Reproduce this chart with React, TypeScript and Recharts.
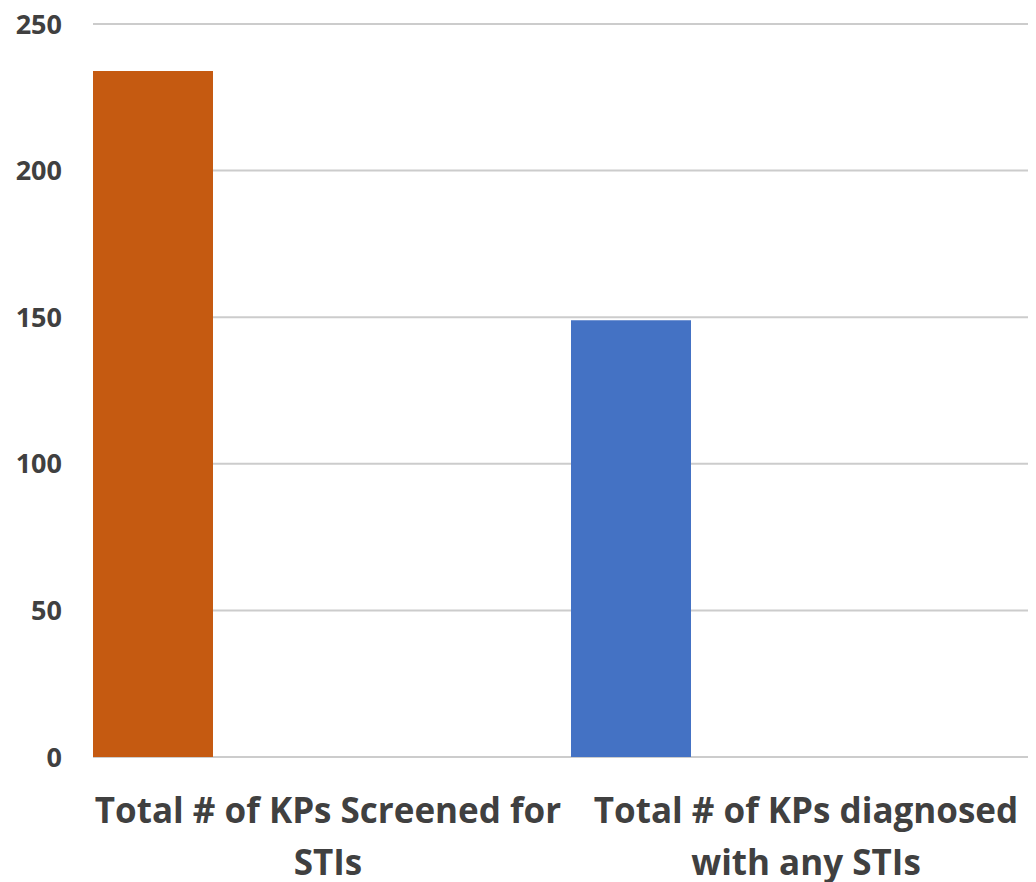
import React from 'react';
import { BarChart, Bar, Cell, XAxis, YAxis, CartesianGrid } from 'recharts';

// categories (\n marks where the axis label wraps)
const categories = ['Total # of KPs Screened for\nSTIs', 'Total # of KPs diagnosed\nwith any STIs'];
// main series, one value per category
const totals = [234, 149];
// the other (empty) series of the source workbook keep the bars at the left of each band
const emptyA = [0, 0];
const emptyB = [0, 0];
const emptyC = [0, 0];
const barColors = ['#C55A11', '#4472C4'];
const yTicks = [0, 50, 100, 150, 200, 250];

const data = categories.map((name, i) => ({
  name,
  total: totals[i],
  a: emptyA[i],
  b: emptyB[i],
  c: emptyC[i],
}));

const FONT = '"Open Sans", sans-serif';
const TEXT = '#404040';

const CategoryTick = ({ x, y, payload }: any) => {
  const lines = String(payload.value).split('\n');
  return (
    <text x={x - 4} y={y} textAnchor="middle" fill={TEXT} fontFamily={FONT} fontWeight={700} fontSize={35}>
      {lines.map((line, i) => (
        <tspan key={i} x={x - 4} dy={i === 0 ? 66 : 52}>
          {line}
        </tspan>
      ))}
    </text>
  );
};

export default function App() {
  return (
    <div style={{ width: 1028, height: 874, overflow: 'hidden', background: '#fff' }}>
      <BarChart
        width={1041}
        height={874}
        data={data}
        margin={{ top: 16, right: 0, left: 0, bottom: 0 }}
        barCategoryGap={0}
        barGap={0}
      >
        <CartesianGrid vertical={false} stroke="#cccccc" strokeWidth={2} />
        <XAxis
          dataKey="name"
          axisLine={false}
          tickLine={false}
          tickSize={0}
          tickMargin={0}
          height={125}
          interval={0}
          tick={<CategoryTick />}
        />
        <YAxis
          width={85}
          domain={[0, 250]}
          ticks={yTicks}
          axisLine={false}
          tickLine={false}
          tickSize={0}
          tickMargin={31}
          tick={{ fill: TEXT, fontFamily: FONT, fontWeight: 700, fontSize: 27 }}
        />
        <Bar dataKey="total" isAnimationActive={false}>
          {data.map((d, i) => (
            <Cell key={d.name} fill={barColors[i]} />
          ))}
        </Bar>
        <Bar dataKey="a" fill="transparent" isAnimationActive={false} />
        <Bar dataKey="b" fill="transparent" isAnimationActive={false} />
        <Bar dataKey="c" fill="transparent" isAnimationActive={false} />
      </BarChart>
    </div>
  );
}
